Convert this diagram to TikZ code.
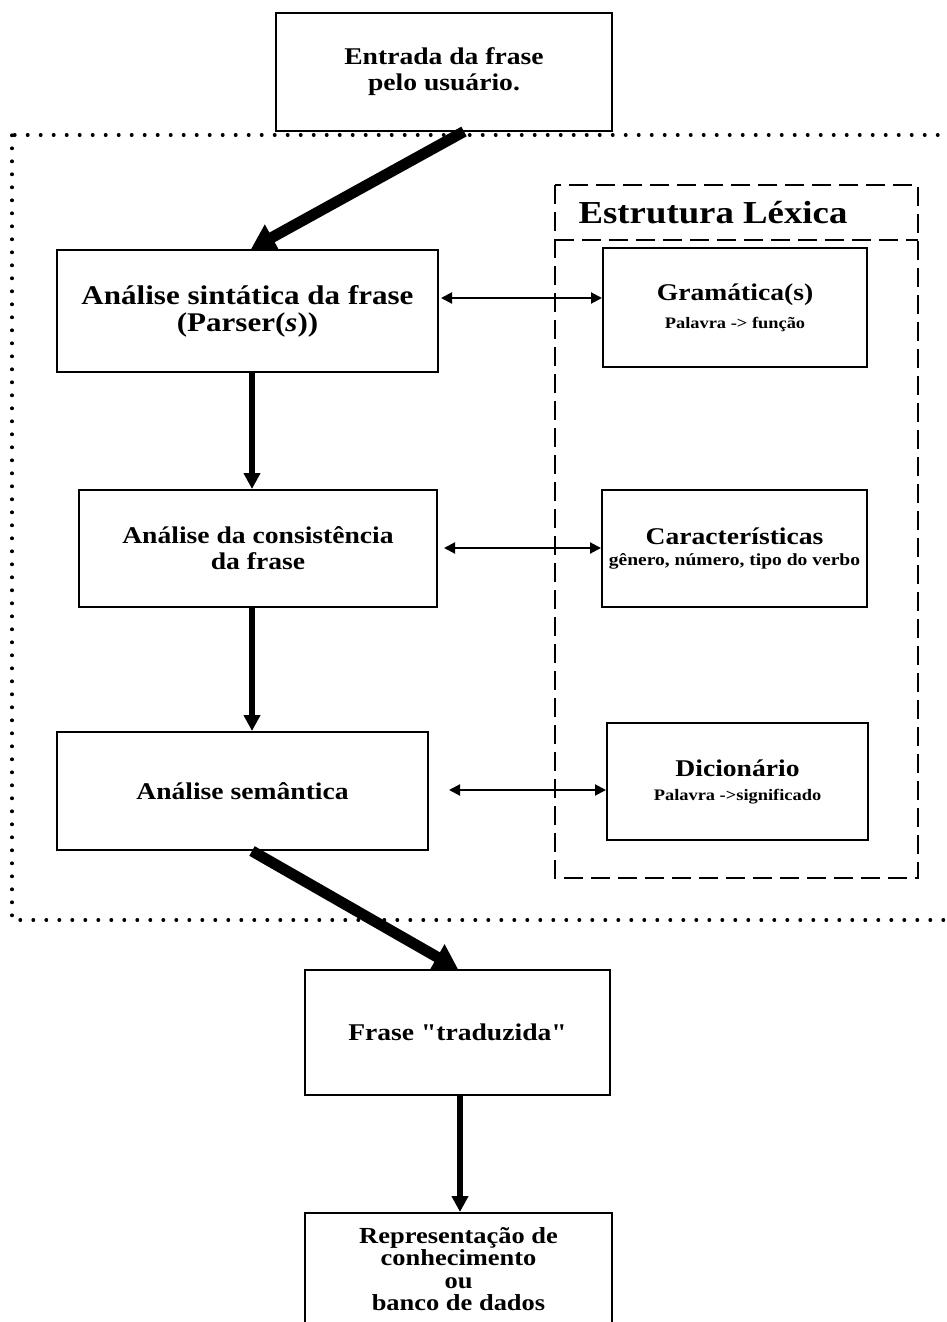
\documentclass[tikz,border=0pt]{standalone}
\usepackage{fontspec}
\setmainfont{Liberation Serif}[FakeStretch=1.15]
\newfontfamily\rawserif{Liberation Serif}[FakeStretch=1.15,Ligatures=ResetAll]
\usetikzlibrary{arrows.meta,calc}
\newcommand\subtxt{\fontsize{16}{18}\selectfont}

\begin{document}
\begin{tikzpicture}[x=1pt,y=-1pt,
  box/.style={draw,line width=2pt,align=center,inner sep=0pt,
    font=\bfseries\fontsize{24}{26}\selectfont},
  dbl/.style={line width=2pt,{Triangle[length=11pt,width=11pt]}-{Triangle[length=11pt,width=11pt]}},
  downarrow/.style={line width=6pt,-{Triangle[length=16pt,width=16pt]}},
  bigarrow/.style={line width=11pt,-{Triangle[length=24pt,width=28pt]}},
  dotframe/.style={line width=3.2pt,line cap=round,dash pattern=on 0.6pt off 12.4pt},
  dashframe/.style={line width=2.5pt,dash pattern=on 19pt off 8pt},
]
\path[use as bounding box] (0,0) rectangle (947,1322);
\clip (0,0) rectangle (947,1322);
\fill[white] (0,0) rectangle (947,1322);

% processing region and lexical structure frame
\draw[dotframe] (12,135) rectangle (990,920);
\draw[dashframe] (555,185) rectangle (918,878);
\draw[dashframe] (555,240) -- (918,240);
\node[font=\bfseries\fontsize{32}{34}\selectfont] (titulo) at (713,213) {\textbf{Estrutura Léxica}};

% main flow
\node[box,minimum width=336pt,minimum height=117pt] (entrada) at (444,72)
  {Entrada da frase\\pelo usuário.};
\node[box,minimum width=381pt,minimum height=122pt,font=\bfseries\fontsize{27}{27}\selectfont] (sint) at (247.5,311)
  {Análise sintática da frase\\(Parser(\textit{s}))};
\node[box,minimum width=358pt,minimum height=117pt] (cons) at (258,548.5)
  {Análise da consistência\\da frase};
\node[box,minimum width=371pt,minimum height=118pt] (sem) at (242.5,791)
  {Análise semântica};
\node[box,minimum width=305pt,minimum height=125pt,font=\rawserif\bfseries\fontsize{24}{26}\selectfont] (trad) at (457.5,1032.5)
  {Frase "traduzida"};
\node[box,minimum width=307pt,minimum height=112pt,font=\bfseries\fontsize{23}{22.5}\selectfont] (repr) at (458.5,1269)
  {Representação de\\conhecimento\\ou\\banco de dados};

% lexical resources
\node[box,minimum width=264pt,minimum height=119pt] (gram) at (735,307.5)
  {Gramática(s)\\[2pt]{\subtxt Palavra -> função}};
\node[box,minimum width=265pt,minimum height=117pt] (carac) at (734.5,548.5)
  {Características\\[-5pt]{\fontsize{17}{18}\selectfont gênero, número, tipo do verbo}};
\node[box,minimum width=261pt,minimum height=117pt] (dic) at (737.5,781.5)
  {Dicionário\\[-2pt]{\subtxt Palavra ->significado}};

% connectors
\draw[bigarrow] (entrada.south -| 464,0) -- (sint.north -| 251,0);
\draw[downarrow] (sint.south -| 252,0) -- (cons.north -| 252,0);
\draw[downarrow] (cons.south -| 252,0) -- (sem.north -| 252,0);
\draw[bigarrow] (sem.south -| 252,0) -- (trad.north -| 458,0);
\draw[downarrow] (trad.south -| 460,0) -- (repr.north -| 460,0);

\draw[dbl] (sint.east |- 0,298) ++(2,0) -- (gram.west |- 0,298);
\draw[dbl] (cons.east |- 0,548) ++(6,0) -- (carac.west |- 0,548);
\draw[dbl] (sem.east |- 0,790) ++(20,0) -- (dic.west |- 0,790);
\end{tikzpicture}
\end{document}
